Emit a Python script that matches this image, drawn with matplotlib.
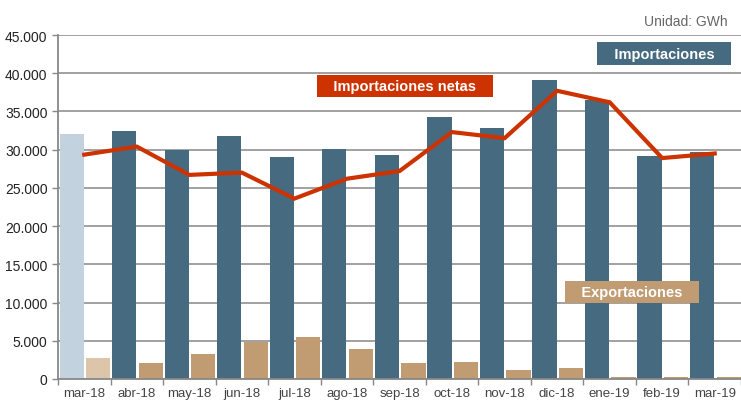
import matplotlib
matplotlib.use("Agg")
import matplotlib.pyplot as plt
import numpy as np

plt.rcParams["font.family"] = ["Liberation Sans", "DejaVu Sans"]

# Datos (GWh)
meses = ["mar-18", "abr-18", "may-18", "jun-18", "jul-18", "ago-18", "sep-18",
         "oct-18", "nov-18", "dic-18", "ene-19", "feb-19", "mar-19"]
importaciones = [32100, 32400, 30000, 31800, 29000, 30050, 29300,
                 34300, 32800, 39100, 36500, 29200, 29700]
exportaciones = [2700, 2100, 3300, 4900, 5500, 3900, 2100,
                 2200, 1200, 1400, 300, 200, 200]
netas = [29350, 30400, 26700, 27000, 23600, 26200, 27200,
         32300, 31500, 37700, 36200, 28900, 29500]

C_IMP = "#466a80"
C_IMP_LIGHT = "#c2d3df"
C_EXP = "#c19c73"
C_EXP_LIGHT = "#dcc5a8"
C_NET = "#cc3300"
C_GRID = "#9a9a9a"

fig = plt.figure(figsize=(7.41, 4.02), dpi=100)
ax = fig.add_axes([58 / 741, 22 / 402, 683 / 741, 344 / 402])

x = np.arange(len(meses))
imp_colors = [C_IMP_LIGHT] + [C_IMP] * (len(meses) - 1)
exp_colors = [C_EXP_LIGHT] + [C_EXP] * (len(meses) - 1)

ax.bar(x + 0.26, importaciones, width=0.46, color=imp_colors,
       linewidth=0, zorder=2)
ax.bar(x + 0.765, exportaciones, width=0.46, color=exp_colors,
       linewidth=0, zorder=2)
ax.plot(x + 0.5, netas, color=C_NET, linewidth=3, zorder=3,
        solid_joinstyle="miter")

ax.set_xlim(0, len(meses))
ax.set_ylim(0, 45000)
ax.set_yticks(np.arange(0, 45001, 5000))
ax.set_yticklabels([f"{v:,}".replace(",", ".") for v in range(0, 45001, 5000)],
                   fontsize=10, color="#222222")
ax.yaxis.grid(True, color=C_GRID, linewidth=1.3, zorder=0)
ax.set_axisbelow(True)

# marcas en los límites de categoría, etiquetas en el centro
ax.set_xticks(np.arange(0, len(meses) + 1))
ax.set_xticklabels([])
ax.set_xticks(x + 0.5, minor=True)
ax.set_xticklabels(meses, minor=True, fontsize=9.5, color="#444444")
ax.tick_params(axis="x", which="major", length=4, color="#888888", width=1)
ax.tick_params(axis="x", which="minor", length=0, pad=6)
ax.tick_params(axis="y", length=4, color="#888888", width=1)

for s in ["top", "right"]:
    ax.spines[s].set_visible(False)
for s in ["left", "bottom"]:
    ax.spines[s].set_color("#888888")
    ax.spines[s].set_linewidth(1.3)

# leyendas en cajas
box = dict(boxstyle="square,pad=0.3", linewidth=0)
fig.text(664 / 741, 1 - 54.5 / 402, "   Importaciones   ", color="white",
         fontsize=10.5, fontweight="bold", ha="center", va="center",
         bbox=dict(box, facecolor=C_IMP))
fig.text(405 / 741, 1 - 87 / 402, "   Importaciones netas   ", color="white",
         fontsize=10.5, fontweight="bold", ha="center", va="center",
         bbox=dict(box, facecolor=C_NET))
fig.text(632 / 741, 1 - 293 / 402, "   Exportaciones   ", color="white",
         fontsize=10.5, fontweight="bold", ha="center", va="center",
         bbox=dict(box, facecolor=C_EXP))

fig.text(728 / 741, 1 - 22 / 402, "Unidad: GWh", color="#666666",
         fontsize=10, ha="right", va="center")

fig.savefig("out.png", dpi=100)
